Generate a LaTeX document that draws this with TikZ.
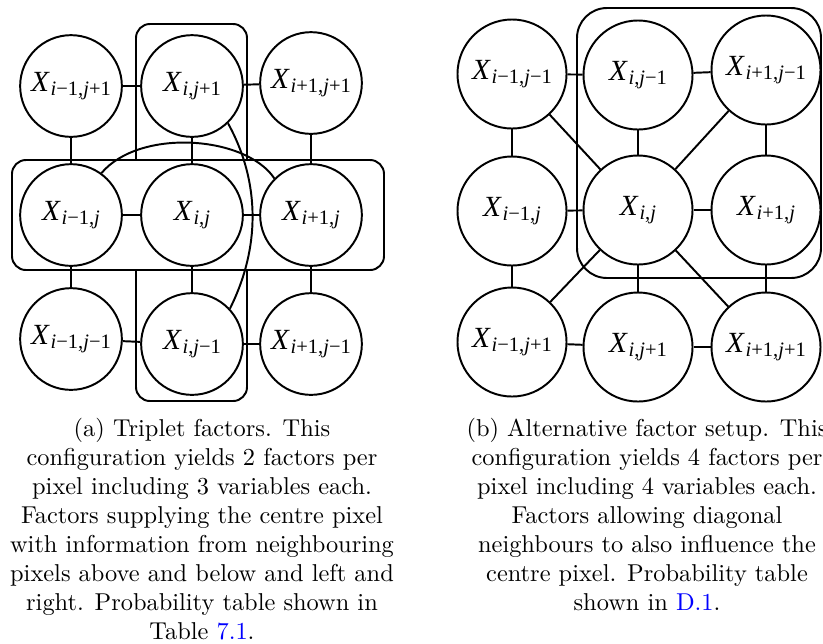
\documentclass[tikz,border=0pt]{standalone}
\usepackage{fontspec}
\newfontfamily\tms{Liberation Serif}
% Variable label: italic X with a smaller, lowered subscript
\newcommand\xv[1]{{\tms\fontsize{12}{14}\selectfont\textit{X}\kern0.3pt\raisebox{-1.7pt}{\fontsize{8.4}{10}\selectfont#1}}}
\newcommand\sI{\textit{i}}
\newcommand\sJ{\textit{j}}
\tikzset{
  var/.style={circle, draw, fill=white, line width=0.8pt, inner sep=0pt, minimum size=41.7pt},
  varb/.style={var, minimum size=44.7pt},
  link/.style={line width=0.8pt},
  factor/.style={draw, line width=0.8pt, rounded corners=5.7pt},
  factorb/.style={draw, line width=0.8pt, rounded corners=12.3pt},
  captext/.style={anchor=base, inner sep=0pt}
}
\begin{document}
\begin{tikzpicture}[x=0.41pt,y=-0.41pt]
\useasboundingbox (0,0) rectangle (823,643);

% ---- (a) triplet factors ----
\draw[factor] (136,24) rectangle (247,401);
\draw[factor, fill=white] (12,160) rectangle (384,270);

\node[var] (L11) at (71,86)   {\xv{\sI−1,\sJ+1}};
\node[var] (L12) at (192,86)  {\xv{\sI,\sJ+1}};
\node[var] (L13) at (311,83)  {\xv{\sI+1,\sJ+1}};
\node[var] (L21) at (71,215)  {\xv{\sI−1,\sJ}};
\node[var] (L22) at (192,215) {\xv{\sI,\sJ}};
\node[var] (L23) at (311,215) {\xv{\sI+1,\sJ}};
\node[var] (L31) at (71,339)  {\xv{\sI−1,\sJ−1}};
\node[var] (L32) at (192,344) {\xv{\sI,\sJ−1}};
\node[var] (L33) at (311,344) {\xv{\sI+1,\sJ−1}};

\draw[link] (L11) -- (L12);
\draw[link] (L12) -- (L13);
\draw[link] (L21) -- (L22);
\draw[link] (L22) -- (L23);
\draw[link] (L31) -- (L32);
\draw[link] (L32) -- (L33);
\draw[link] (L11) -- (L21);
\draw[link] (L12) -- (L22);
\draw[link] (L13) -- (L23);
\draw[link] (L21) -- (L31);
\draw[link] (L22) -- (L32);
\draw[link] (L23) -- (L33);
\draw[link] (L21.54) .. controls +(38,-45) and +(-29,-43) .. (L23.135);
\draw[link] (L12.-46) .. controls +(33,60) and +(30,-60) .. (L32.43);

% ---- (b) alternative factor setup ----
\draw[factorb] (577,8) rectangle (821,278);

\node[varb] (R11) at (512,74)  {\xv{\sI−1,\sJ−1}};
\node[varb] (R12) at (638,75)  {\xv{\sI,\sJ−1}};
\node[varb] (R13) at (766,70)  {\xv{\sI+1,\sJ−1}};
\node[varb] (R21) at (512,211) {\xv{\sI−1,\sJ}};
\node[varb] (R22) at (638,210) {\xv{\sI,\sJ}};
\node[varb] (R23) at (766,210) {\xv{\sI+1,\sJ}};
\node[varb] (R31) at (512,342) {\xv{\sI−1,\sJ+1}};
\node[varb] (R32) at (638,347) {\xv{\sI,\sJ+1}};
\node[varb] (R33) at (766,347) {\xv{\sI+1,\sJ+1}};

\draw[link] (R11) -- (R12);
\draw[link] (R12) -- (R13);
\draw[link] (R21) -- (R22);
\draw[link] (R22) -- (R23);
\draw[link] (R31) -- (R32);
\draw[link] (R32) -- (R33);
\draw[link] (R11) -- (R21);
\draw[link] (R12) -- (R22);
\draw[link] (R13) -- (R23);
\draw[link] (R21) -- (R31);
\draw[link] (R22) -- (R32);
\draw[link] (R23) -- (R33);
\draw[link] (R22) -- (R11);
\draw[link] (R22) -- (R13);
\draw[link] (R22) -- (R31);
\draw[link] (R22) -- (R33);

% ---- captions ----
\foreach \t [count=\k] in {
  {(a) Triplet factors. This},
  {configuration yields 2 factors per},
  {pixel including 3 variables each.},
  {Factors supplying the centre pixel},
  {with information from neighbouring},
  {pixels above and below and left and},
  {right. Probability table shown in},
  {Table \textcolor{blue}{7.1}.}}
  \node[captext] (capa\k) at (202,{436+29.1*(\k-1)}) {\t};
\foreach \t [count=\k] in {
  {(b) Alternative factor setup. This},
  {configuration yields 4 factors per},
  {pixel including 4 variables each.},
  {Factors allowing diagonal},
  {neighbours to also influence the},
  {centre pixel. Probability table},
  {shown in \textcolor{blue}{D.1}.}}
  \node[captext] (capb\k) at (647,{436+29.1*(\k-1)}) {\t};
\end{tikzpicture}
\end{document}
